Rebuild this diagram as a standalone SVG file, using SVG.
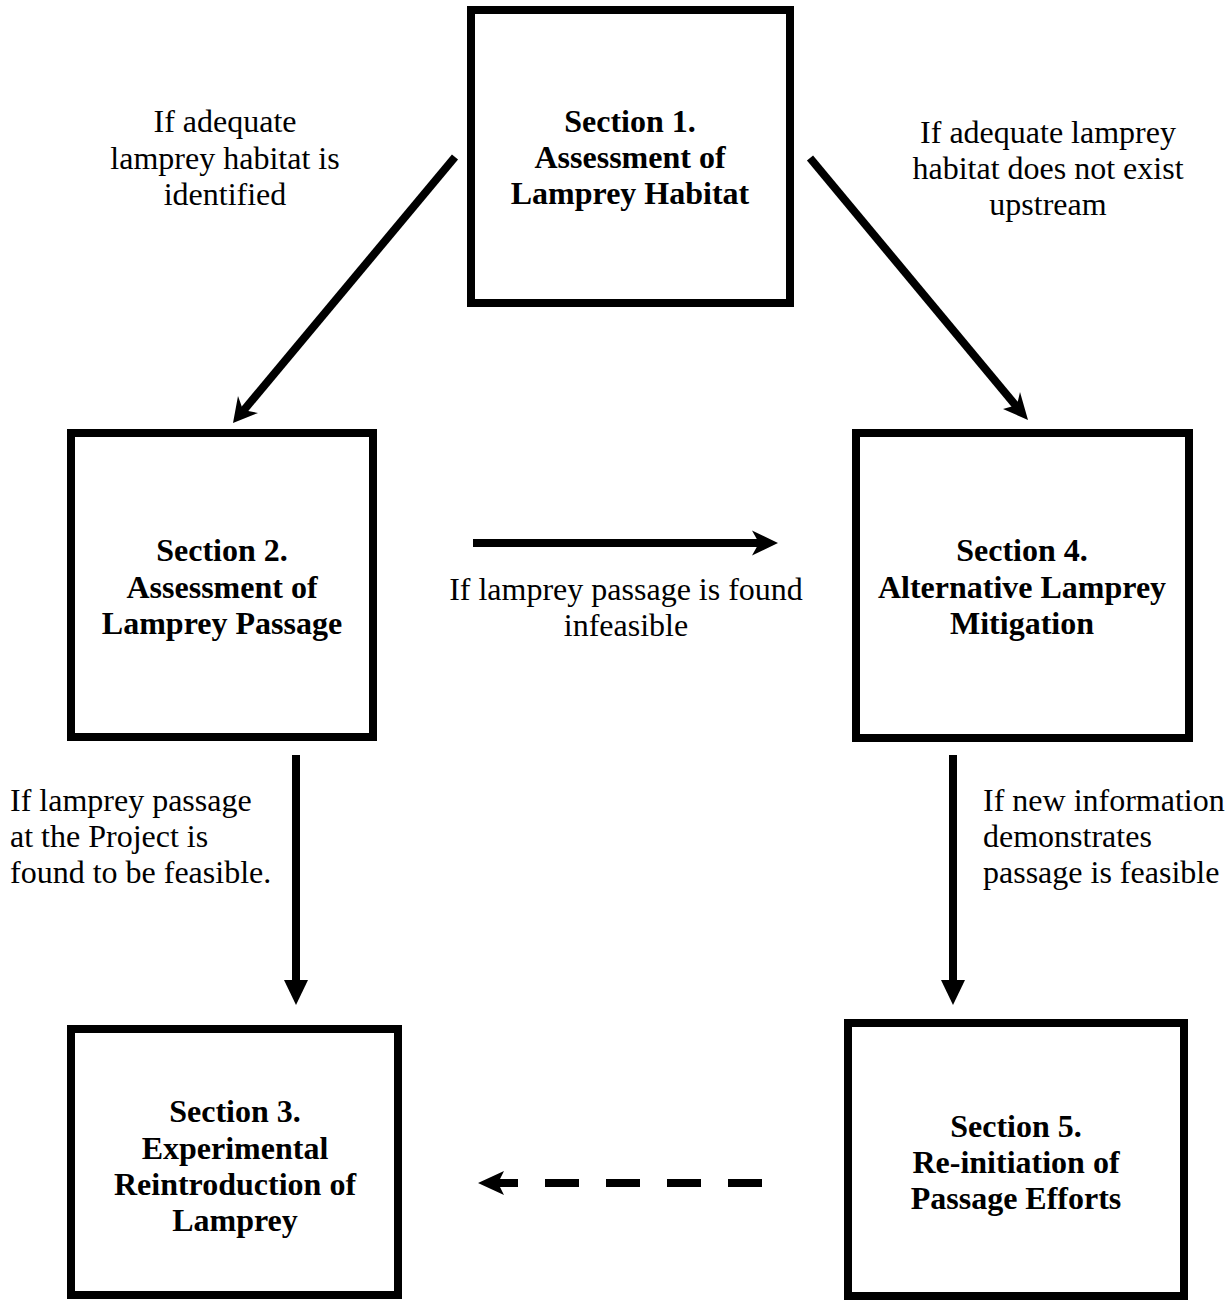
<svg xmlns="http://www.w3.org/2000/svg" width="1230" height="1300" viewBox="0 0 1230 1300">
<style>
.box{fill:#fff;stroke:#000;stroke-width:8}
.t{font-family:"Liberation Serif","Times New Roman",serif;font-size:32px;fill:#000}
.b{font-weight:bold;text-anchor:middle}
.m{text-anchor:middle}
.c{stroke:#000;stroke-width:8;fill:none}
.h{fill:#000}
</style>
<rect width="1230" height="1300" fill="#fff"/>
<g id="connectors">
<path class="c" d="M455,157 L239,416"/>
<path class="h" d="M233,423 L238,396 L243,410 L258,413 Z"/>
<path class="c" d="M810,158 L1022,413"/>
<path class="h" d="M1028,420 L1003,409 L1017,405 L1020,392 Z"/>
<path class="c" d="M473,543 L765,543"/>
<path class="h" d="M778,543 L752,530.5 L759,543 L752,555.5 Z"/>
<path class="c" d="M296,755 L296,985"/>
<path class="h" d="M296,1005 L284,980 L308,980 Z"/>
<path class="c" d="M953,755 L953,985"/>
<path class="h" d="M953,1005 L941,980 L965,980 Z"/>
<path class="c" d="M762,1183 L492,1183" stroke-dasharray="34 27"/>
<path class="h" d="M478,1183 L504,1171 L498,1183 L504,1195 Z"/>
</g>
<g id="node1">
<rect class="box" x="471" y="10" width="319" height="293"/>
<text class="t b" x="630" y="132">Section 1.</text>
<text class="t b" x="630" y="168">Assessment of</text>
<text class="t b" x="630" y="204">Lamprey Habitat</text>
</g>
<g id="node2">
<rect class="box" x="71" y="433" width="302" height="304"/>
<text class="t b" x="222" y="561">Section 2.</text>
<text class="t b" x="222" y="598">Assessment of</text>
<text class="t b" x="222" y="634">Lamprey Passage</text>
</g>
<g id="node4">
<rect class="box" x="856" y="433" width="333" height="305"/>
<text class="t b" x="1022" y="561">Section 4.</text>
<text class="t b" x="1022" y="598">Alternative Lamprey</text>
<text class="t b" x="1022" y="634">Mitigation</text>
</g>
<g id="node3">
<rect class="box" x="71" y="1029" width="327" height="266"/>
<text class="t b" x="235" y="1122">Section 3.</text>
<text class="t b" x="235" y="1159">Experimental</text>
<text class="t b" x="235" y="1195">Reintroduction of</text>
<text class="t b" x="235" y="1231">Lamprey</text>
</g>
<g id="node5">
<rect class="box" x="848" y="1023" width="336" height="273"/>
<text class="t b" x="1016" y="1137">Section 5.</text>
<text class="t b" x="1016" y="1173">Re-initiation of</text>
<text class="t b" x="1016" y="1209">Passage Efforts</text>
</g>
<g id="labels">
<text class="t m" x="225" y="132">If adequate</text>
<text class="t m" x="225" y="169">lamprey habitat is</text>
<text class="t m" x="225" y="205">identified</text>
<text class="t m" x="1048" y="143">If adequate lamprey</text>
<text class="t m" x="1048" y="179">habitat does not exist</text>
<text class="t m" x="1048" y="215">upstream</text>
<text class="t m" x="626" y="600">If lamprey passage is found</text>
<text class="t m" x="626" y="636">infeasible</text>
<text class="t" x="10" y="811">If lamprey passage</text>
<text class="t" x="10" y="847">at the Project is</text>
<text class="t" x="10" y="883">found to be feasible.</text>
<text class="t" x="983" y="811">If new information</text>
<text class="t" x="983" y="847">demonstrates</text>
<text class="t" x="983" y="883">passage is feasible</text>
</g>
</svg>
